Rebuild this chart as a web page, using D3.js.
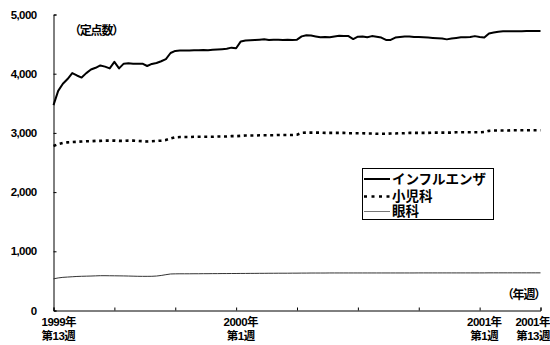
<!DOCTYPE html>
<html>
<head>
<meta charset="utf-8">
<script src="https://cdn.jsdelivr.net/npm/d3@7"></script>
<style>
  body { margin: 0; background: #fff; }
  text { font-family: "Liberation Sans", "Noto Sans CJK JP", sans-serif; font-weight: bold; fill: #000; }
</style>
</head>
<body>
<svg id="chart" width="550" height="345"></svg>
<script>
// weekly values, 1999 week 13 .. 2001 week 13 (105 weeks)
const influenza = [
  3470, 3710, 3830, 3910, 4010, 3970, 3935, 4010, 4070, 4100,
  4140, 4120, 4090, 4200, 4090, 4170, 4175, 4170, 4170, 4170,
  4130, 4165, 4180, 4210, 4245, 4350, 4385, 4390, 4390, 4390,
  4395, 4395, 4400, 4395, 4405, 4410, 4415, 4420, 4440, 4430,
  4545, 4560, 4565, 4570, 4575, 4580, 4570, 4575, 4575, 4570,
  4575, 4570, 4575, 4630, 4650, 4645, 4630, 4615, 4620, 4615,
  4630, 4640, 4635, 4635, 4585, 4625, 4630, 4615, 4635, 4625,
  4610, 4570, 4570, 4610, 4620, 4630, 4630, 4620, 4620, 4615,
  4610, 4605, 4600, 4595, 4580, 4595, 4605, 4615, 4615, 4620,
  4635, 4620, 4610, 4680, 4695, 4710, 4715, 4715, 4715, 4718,
  4718, 4720, 4720, 4720, 4720
];
const pediatric = [
  2780, 2810, 2830, 2840, 2845, 2850, 2855, 2860, 2860, 2865,
  2865, 2870, 2870, 2870, 2865, 2865, 2870, 2870, 2865, 2860,
  2855, 2860, 2865, 2870, 2880, 2905, 2925, 2930, 2930, 2930,
  2935, 2935, 2935, 2935, 2935, 2940, 2940, 2940, 2945, 2945,
  2950, 2955, 2955, 2955, 2960, 2960, 2960, 2960, 2965, 2965,
  2965, 2965, 2970, 3000, 3005, 3005, 3005, 3005, 3000, 3000,
  3000, 3000, 3000, 2995, 2995, 2995, 2995, 2990, 2990, 2985,
  2985, 2985, 2990, 2990, 2995, 2995, 3000, 3000, 3000, 3000,
  3000, 3005, 3005, 3005, 3005, 3005, 3010, 3010, 3010, 3010,
  3010, 3010, 3015, 3035, 3040, 3040, 3040, 3040, 3045, 3045,
  3045, 3045, 3045, 3045, 3045
];
const eye = [
  535, 550, 560, 565, 570, 575, 578, 580, 582, 585,
  588, 588, 587, 586, 585, 584, 582, 580, 578, 577,
  577, 578, 582, 592, 605, 617, 619, 620, 620, 620,
  621, 621, 622, 622, 623, 623, 624, 624, 625, 625,
  626, 626, 627, 627, 628, 628, 629, 629, 630, 630,
  630, 631, 631, 632, 632, 633, 633, 633, 633, 634,
  634, 634, 634, 634, 634, 634, 634, 634, 634, 634,
  634, 634, 634, 634, 634, 634, 634, 634, 635, 635,
  635, 635, 635, 635, 635, 635, 635, 635, 635, 635,
  635, 635, 635, 636, 636, 636, 636, 636, 636, 636,
  636, 636, 636, 636, 636
];

const seriesNames = ["インフルエンザ", "小児科", "眼科"];
const yTicks = [0, 1000, 2000, 3000, 4000, 5000];
const xTickIdx = [0, 13, 26, 39, 52, 65, 78, 91, 104];
const labelIdx = [0, 40, 92, 104];
const labelYear = ["1999年", "2000年", "2001年", "2001年"];
const labelWeek = ["第13週", "第1週", "第1週", "第13週"];

const svg = d3.select("#chart");
const x = d3.scaleLinear().domain([0, influenza.length - 1]).range([53.5, 540.5]);
const y = d3.scaleLinear().domain([0, 5000]).range([310.5, 14.5]);

// axes
svg.append("g")
  .attr("transform", "translate(53.5,0)")
  .call(d3.axisLeft(y).tickValues(yTicks).tickSize(-3).tickPadding(17).tickFormat(d3.format(",")))
  .call((g) => {
    g.select(".domain").attr("stroke", "#000");
    g.selectAll("line").attr("stroke", "#000");
    g.selectAll("text").attr("font-size", 11.5).attr("letter-spacing", -0.6).attr("font-family", null);
  });

svg.append("g")
  .attr("transform", "translate(0,310.5)")
  .call(d3.axisBottom(x).tickValues(xTickIdx).tickSize(-3).tickFormat(""))
  .call((g) => {
    g.select(".domain").attr("stroke", "#000");
    g.selectAll("line").attr("stroke", "#000");
  });

// x labels (two lines)
const lbl = svg.append("g").attr("font-size", 11.5);
labelIdx.forEach((idx, k) => {
  let anchor = "middle";
  let px = x(idx);
  if (k === 0) { anchor = "start"; px = x(idx) - 12; }
  if (k === labelIdx.length - 1) { anchor = "end"; px = x(idx) + 9.5; }
  const t = lbl.append("text").attr("text-anchor", anchor).attr("letter-spacing", -0.5);
  t.append("tspan").attr("x", px).attr("y", 325.5).text(labelYear[k]);
  t.append("tspan").attr("x", px).attr("y", 339.5).text(labelWeek[k]);
});

svg.append("text").attr("x", 69).attr("y", 34.5).attr("font-size", 12).text("（定点数）").attr("letter-spacing", -1.2);
svg.append("text").attr("x", 545).attr("y", 298.5).attr("font-size", 12).attr("text-anchor", "end").text("（年週）").attr("letter-spacing", -1.2);

// lines
const line = d3.line().x((d, i) => x(i)).y((d) => y(d));

svg.append("path").datum(eye)
  .attr("fill", "none").attr("stroke", "#333").attr("stroke-width", 1)
  .attr("d", line);

svg.append("path").datum(pediatric)
  .attr("fill", "none").attr("stroke", "#000").attr("stroke-width", 2.6)
  .attr("stroke-dasharray", "3,3.6")
  .attr("d", line);

svg.append("path").datum(influenza)
  .attr("fill", "none").attr("stroke", "#000").attr("stroke-width", 2)
  .attr("stroke-linejoin", "round")
  .attr("d", line);

// legend
const lg = svg.append("g");
lg.append("rect").attr("x", 362.5).attr("y", 168.5).attr("width", 131).attr("height", 51)
  .attr("fill", "#fff").attr("stroke", "#000").attr("stroke-width", 1);
const rowY = [179, 196.5, 211.5];
const sampleStyle = [
  { stroke: "#000", w: 2, dash: null },
  { stroke: "#000", w: 2.6, dash: "3,4.5" },
  { stroke: "#777", w: 1, dash: null },
];
seriesNames.forEach((name, k) => {
  lg.append("line").attr("x1", 364).attr("x2", 390).attr("y1", rowY[k]).attr("y2", rowY[k])
    .attr("stroke", sampleStyle[k].stroke).attr("stroke-width", sampleStyle[k].w)
    .attr("stroke-dasharray", sampleStyle[k].dash);
  lg.append("text").attr("x", 392).attr("y", rowY[k]).attr("dy", "0.36em")
    .attr("font-size", 13.5).attr("font-family", "Noto Sans CJK JP").text(name);
});
</script>
</body>
</html>
